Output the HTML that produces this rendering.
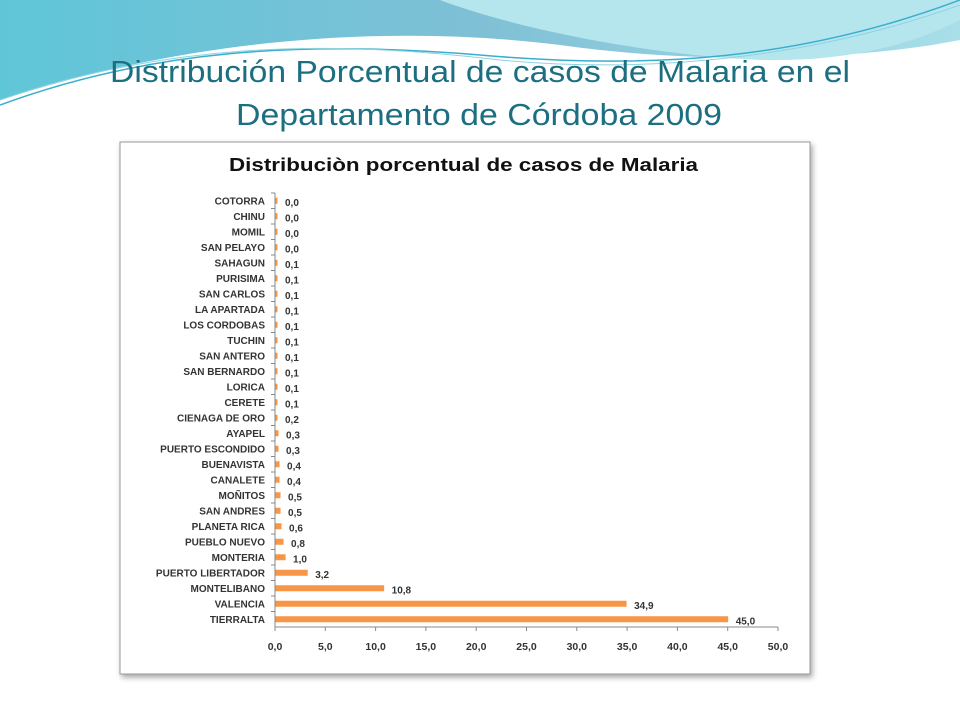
<!DOCTYPE html>
<html><head><meta charset="utf-8"><style>
body{margin:0;width:960px;height:720px;overflow:hidden;background:#fff;font-family:"Liberation Sans",sans-serif}
</style></head><body>
<svg width="960" height="720" style="position:absolute;left:0;top:0">
<defs>
<linearGradient id="g1" x1="0" y1="0" x2="1" y2="0"><stop offset="0" stop-color="#5fc6d8"/><stop offset="0.5" stop-color="#7fc0d6"/><stop offset="1" stop-color="#a8dfe8"/></linearGradient>
<filter id="sh"><feDropShadow dx="2" dy="3" stdDeviation="3" flood-color="#000" flood-opacity="0.35"/></filter>
</defs>
<path d="M0,0 H960 V40 C860,60 700,65 560,45 C400,25 200,35 0,100 Z" fill="url(#g1)"/>
<path d="M440,0 C520,30 650,55 760,60 C860,62 920,40 960,20 V0 Z" fill="#b5e6ee"/>
<path d="M0,105 C150,50 300,40 480,55 C650,70 800,60 960,0" stroke="#3aaecc" stroke-width="1.5" fill="none"/>
<path d="M0,100 C160,45 320,38 500,60 C660,75 820,55 960,5" stroke="#8fd3e0" stroke-width="1" fill="none"/>
<text x="110" y="82" textLength="740" lengthAdjust="spacingAndGlyphs" font-size="31" fill="#1b6f80">Distribución Porcentual de casos de Malaria en el</text>
<text x="236" y="125" textLength="486" lengthAdjust="spacingAndGlyphs" font-size="31" fill="#1b6f80">Departamento de Córdoba 2009</text>
<rect x="120" y="142" width="690" height="532" fill="#fff" stroke="#999" filter="url(#sh)"/>
<text x="229" y="171" textLength="469" lengthAdjust="spacingAndGlyphs" font-size="18" font-weight="bold" fill="#111">Distribuciòn porcentual de casos de Malaria</text>
<g id="plot"></g>
</svg>
<script>
const categories=["COTORRA","CHINU","MOMIL","SAN PELAYO","SAHAGUN","PURISIMA","SAN CARLOS","LA APARTADA","LOS CORDOBAS","TUCHIN","SAN ANTERO","SAN BERNARDO","LORICA","CERETE","CIENAGA DE ORO","AYAPEL","PUERTO ESCONDIDO","BUENAVISTA","CANALETE","MOÑITOS","SAN ANDRES","PLANETA RICA","PUEBLO NUEVO","MONTERIA","PUERTO LIBERTADOR","MONTELIBANO","VALENCIA","TIERRALTA"];
const values=[0.04,0.04,0.04,0.04,0.1,0.1,0.1,0.1,0.1,0.1,0.1,0.1,0.1,0.1,0.2,0.3,0.3,0.4,0.4,0.5,0.5,0.6,0.8,1.0,3.2,10.8,34.9,45.0];
const labels=["0,0","0,0","0,0","0,0","0,1","0,1","0,1","0,1","0,1","0,1","0,1","0,1","0,1","0,1","0,2","0,3","0,3","0,4","0,4","0,5","0,5","0,6","0,8","1,0","3,2","10,8","34,9","45,0"];
const ticks=[0,5,10,15,20,25,30,35,40,45,50];
const tickLabels=["0,0","5,0","10,0","15,0","20,0","25,0","30,0","35,0","40,0","45,0","50,0"];
const ns="http://www.w3.org/2000/svg",g=document.getElementById('plot');
const x0=275,x1=778,xmax=50,yTop=193,yBot=627;
const X=v=>x0+(x1-x0)*v/xmax;
const step=(yBot-yTop)/categories.length;
const Y=i=>yTop+step*(i+0.5);
function mk(t,a){const e=document.createElementNS(ns,t);for(const k in a)e.setAttribute(k,a[k]);g.appendChild(e);return e;}
let ax=mk('line',{x1:x0,y1:yTop,x2:x0,y2:yBot,stroke:'#888'});


let bx=mk('line',{x1:x0,y1:yBot,x2:x1,y2:yBot,stroke:'#888'});


categories.forEach((c,i)=>{
 const y=Y(i);
 mk('line',{x1:x0-4,y1:yTop+step*i,x2:x0,y2:yTop+step*i,stroke:'#888'});
 const t=mk('text',{x:x0-10,y:y+3.5,'text-anchor':'end','font-size':10,'font-weight':'bold',fill:'#333'});t.textContent=c;
 
 
 const b=mk('rect',{x:x0+0.5,y:y-3,width:Math.max(X(values[i])-x0,2),height:6,fill:'#f79646'});
 
 
 const l=mk('text',{x:Math.max(X(values[i]),x0+2)+8,y:y+5,'font-size':10,'font-weight':'bold',fill:'#333'});l.textContent=labels[i];
 
 
});
ticks.forEach((v,i)=>{
 mk('line',{x1:X(v),y1:yBot,x2:X(v),y2:yBot+4,stroke:'#888'});
 const t=mk('text',{x:X(v),y:yBot+23,'text-anchor':'middle','font-size':10.5,'font-weight':'bold',fill:'#333'});t.textContent=tickLabels[i];
 
 
});
</script>
</body></html>
